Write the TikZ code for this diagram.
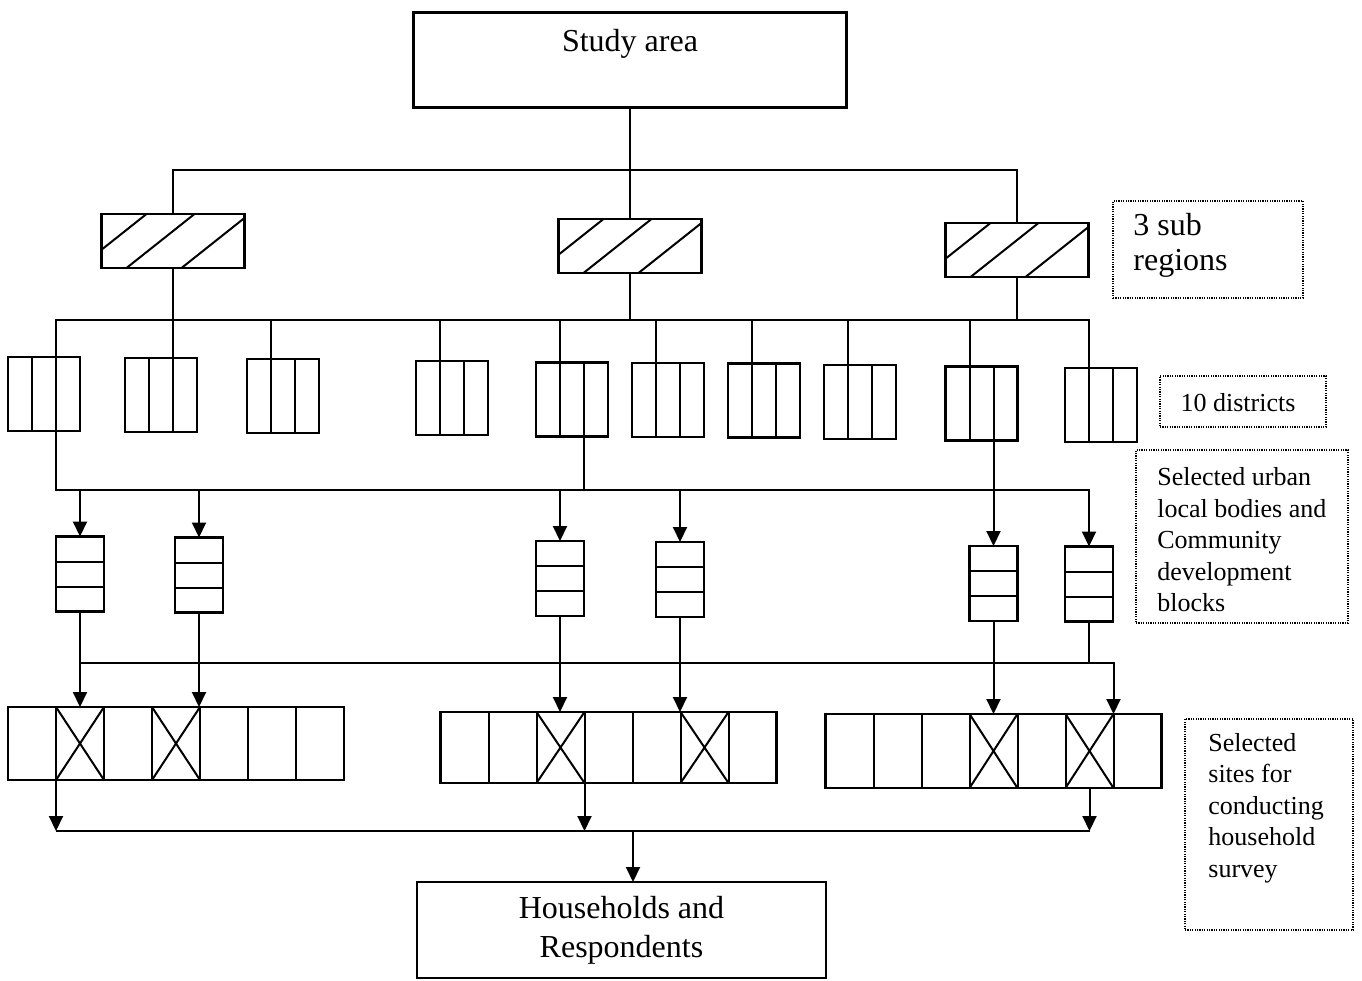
\documentclass[tikz,border=0pt]{standalone}
\usepackage{fontspec}
\setmainfont{Liberation Serif}
\usetikzlibrary{arrows.meta}

\tikzset{
  box/.style={draw, line width=1.1pt, inner sep=0pt, outer sep=0pt},
  conn/.style={line width=1pt},
  arr/.style={conn, -{Triangle[width=7pt,length=7.5pt]}},
  lab/.style={draw, dash pattern=on 0.6pt off 0.6pt, line width=0.8pt, inner sep=0pt, outer sep=0pt},
  big/.style={font=\fontsize{16}{19.5}\selectfont, inner sep=0pt},
  small/.style={font=\fontsize{13}{15.75}\selectfont, align=left, inner sep=0pt},
}

\newcommand{\districtbox}[3]{%
  \node[box, minimum width=36pt, minimum height=37pt] (#1) at (#2,#3) {};
  \coordinate (#1-t1) at ([xshift=12pt]#1.north west);
  \coordinate (#1-t2) at ([xshift=24pt]#1.north west);
  \coordinate (#1-b1) at ([xshift=12pt]#1.south west);
  \coordinate (#1-b2) at ([xshift=24pt]#1.south west);
  \draw[conn] (#1-t1) -- (#1-b1) (#1-t2) -- (#1-b2);
}
\newcommand{\ulbbox}[3]{%
  \node[box, minimum width=24pt, minimum height=37.5pt] (#1) at (#2,#3) {};
  \draw[conn] ([yshift=-12.5pt]#1.north west) -- ([yshift=-12.5pt]#1.north east)
              ([yshift=-25pt]#1.north west) -- ([yshift=-25pt]#1.north east);
}
\newcommand{\sitegroup}[5]{%
  \node[box, minimum width=168pt, minimum height=#4] (#1) at (#2,#3) {};
  \foreach \k in {0,...,7} {
    \coordinate (#1-t\k) at ([xshift=\k*24pt]#1.north west);
    \coordinate (#1-b\k) at ([xshift=\k*24pt]#1.south west);
  }
  \foreach \k in {1,...,6} {\draw[conn] (#1-t\k) -- (#1-b\k);}
  \foreach \k in {#5} {
    \pgfmathtruncatemacro\kk{\k-1}
    \draw[conn] (#1-t\kk) -- (#1-b\k) (#1-b\kk) -- (#1-t\k);
  }
}
\newcommand{\hatchbox}[3]{%
  \node[box, minimum width=71.5pt, minimum height=27pt] (#1) at (#2,#3) {};
  \begin{scope}
    \clip (#1.south west) rectangle (#1.north east);
    \draw[conn] ([xshift=-11.5pt]#1.south west) -- ++(68,-54);
    \draw[conn] ([xshift=12.5pt]#1.south west) -- ++(68,-54);
    \draw[conn] ([xshift=40pt]#1.south west) -- ++(68,-54);
  \end{scope}
}

\begin{document}
\begin{tikzpicture}[x=0.5pt, y=-0.5pt]
\useasboundingbox[fill=white] (0,0) rectangle (1362,981);

% bar levels
\coordinate (bar1) at (0,170);
\coordinate (bar2) at (0,320);
\coordinate (bar3) at (0,490);
\coordinate (bar4) at (0,663);
\coordinate (bar5) at (0,831);

% top box
\node[box, minimum width=216.5pt, minimum height=47.5pt] (study) at (630,60) {};
\node[big] (studytxt) at (630,44) {Study area};

% sub regions
\hatchbox{sr1}{173}{241}
\hatchbox{sr2}{630}{246}
\hatchbox{sr3}{1017}{250}

% districts
\districtbox{d1}{44}{394}
\districtbox{d2}{161}{395}
\districtbox{d3}{283}{396}
\districtbox{d4}{452}{398}
\districtbox{d5}{572}{399.5}
\districtbox{d6}{668}{400}
\districtbox{d7}{764}{400.5}
\districtbox{d8}{860}{402}
\districtbox{d9}{981.5}{403.5}
\districtbox{d10}{1101}{405}

% ULBs / CD blocks
\ulbbox{u1}{80}{574}
\ulbbox{u2}{199}{575}
\ulbbox{u3}{560}{578.5}
\ulbbox{u4}{680}{579.5}
\ulbbox{u5}{993.5}{583.5}
\ulbbox{u6}{1089}{584}

% site groups
\sitegroup{g1}{176}{743.5}{36.5pt}{2,4}
\sitegroup{g2}{608.5}{747.5}{35.5pt}{3,6}
\sitegroup{g3}{993.5}{751}{37pt}{4,6}
\coordinate (g3-c6) at ([xshift=132pt]g3.south west);

% households
\node[box, big, align=center, minimum width=204.5pt, minimum height=48pt] (hh) at (621.5,930) {Households and\\Respondents};
\coordinate (hhin) at ([xshift=5.75pt]hh.north);

% labels
\node[lab, minimum width=95pt, minimum height=48.5pt] (lab1) at (1208,249.5) {};
\node[big, align=left, anchor=west, font=\fontsize{16}{17.5}\selectfont] (lab1t) at (1133,245) {3 sub\\regions};
\node[lab, minimum width=83pt, minimum height=25.5pt] (lab2) at (1243,401.5) {};
\node[small] (lab2t) at (1238,403) {10 districts};
\node[lab, minimum width=106pt, minimum height=86.5pt] (lab3) at (1242,536.5) {};
\node[small, anchor=west] (lab3t) at (1157,540) {Selected urban\\local bodies and\\Community\\development\\blocks};
\node[lab, minimum width=84pt, minimum height=105.5pt] (lab4) at (1269,824.5) {};
\node[small, anchor=west] (lab4t) at (1208,808) {Selected\\sites for\\conducting\\household\\survey};

% level 1 connectors
\draw[conn] (study.south) -- (sr2.north);
\draw[conn] (sr1.north) -- (sr1.north |- bar1) -- (sr3.north |- bar1) -- (sr3.north);

% level 2 connectors
\draw[conn] (d1-t2) -- (d1-t2 |- bar2) -- (d10-t1 |- bar2) -- (d10-t1);
\draw[conn] (sr1.south) -- (d2-t2);
\draw[conn] (sr2.south) -- (sr2.south |- bar2);
\draw[conn] (sr3.south) -- (sr3.south |- bar2);
\foreach \d in {d3,d4,d5,d6,d7,d8,d9} {\draw[conn] (\d-t1 |- bar2) -- (\d-t1);}

% level 3 connectors
\draw[arr] (d1-b2) -- (d1-b2 |- bar3) -- (u6.north |- bar3) -- (u6.north);
\draw[conn] (d5-b2) -- (d5-b2 |- bar3);
\draw[arr] (d9-b2) -- (u5.north);
\foreach \u in {u1,u2,u3,u4} {\draw[arr] (\u.north |- bar3) -- (\u.north);}

% level 4 connectors
\draw[arr] (u1.south) -- (u1.south |- g1.north);
\draw[arr] (u2.south) -- (u2.south |- g1.north);
\draw[arr] (u3.south) -- (u3.south |- g2.north);
\draw[arr] (u4.south) -- (u4.south |- g2.north);
\draw[arr] (u5.south) -- (u5.south |- g3.north);
\draw[conn] (u6.south) -- (u6.south |- bar4);
\draw[arr] (u1.south |- bar4) -- (g3-t6 |- bar4) -- (g3-t6);

% level 5 connectors
\draw[conn] (g1-b1 |- bar5) -- (g3-c6 |- bar5);
\draw[arr] (g1-b1) -- (g1-b1 |- bar5);
\draw[arr] (g2-b3) -- (g2-b3 |- bar5);
\draw[arr] (g3-c6) -- (g3-c6 |- bar5);
\draw[arr] (hhin |- bar5) -- (hhin);
\end{tikzpicture}
\end{document}
